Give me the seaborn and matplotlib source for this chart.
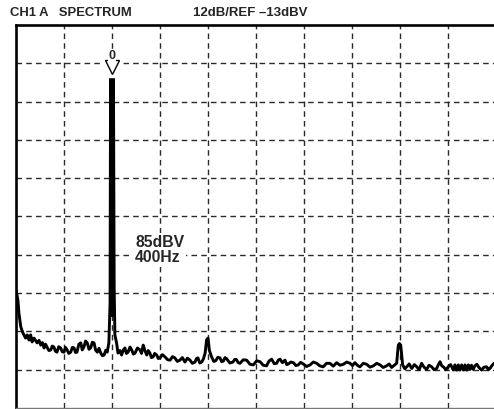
import matplotlib
matplotlib.use("Agg")
import matplotlib.pyplot as plt
import numpy as np
import pandas as pd
import seaborn as sns

# Analyzer settings
ref_level_db = -13.0      # top graticule line, dBV
db_per_div = 12.0
hz_per_div = 200.0
n_div = 10

# Fundamental marker readout
marker_freq_hz = 400.0
marker_rel_db = 85.0      # fundamental above the local noise floor
floor_ref_db = -114.0
peak_db = floor_ref_db + marker_rel_db

# Spectrum trace: frequency (Hz) and level (dBV)
freq_hz = [
    0, 8, 12, 20, 29, 40, 47, 54, 61, 67, 75, 88, 96, 103, 110, 117, 123,
    129, 137, 145, 151, 158, 164, 171, 178, 186, 193, 200, 206, 213, 220,
    228, 235, 242, 248, 254, 262, 270, 276, 283, 290, 297, 304, 311, 318,
    325, 332, 339, 346, 353, 360, 367, 374, 380, 387,
    392, 394, 396, 398, 400, 402, 404, 406, 409,
    412, 419, 425, 433, 440, 447, 454, 460, 467, 475, 482, 489, 496, 506,
    517, 523, 530, 537, 545, 551, 558, 564, 571, 578, 586, 593, 600, 610,
    621, 632, 642, 652, 662, 672, 683, 693, 704, 714, 725, 735, 746, 752,
    758, 766, 774, 781, 788, 794, 800, 806, 815, 824, 832, 841, 850, 857,
    864, 871, 878, 891, 904, 911, 918, 926, 933, 947, 961, 975, 989, 1003,
    1017, 1030, 1044, 1054, 1065, 1076, 1086, 1093, 1100, 1110, 1121, 1128,
    1135, 1145, 1156, 1166, 1176, 1186, 1197, 1211, 1225, 1239, 1253, 1266,
    1280, 1294, 1308, 1322, 1336, 1350, 1364, 1378, 1392, 1402, 1412, 1422,
    1433, 1447, 1461, 1475, 1489, 1503, 1517, 1530, 1544, 1555, 1565, 1576,
    1586, 1593, 1598, 1603, 1611, 1620, 1628, 1638, 1649, 1660, 1670, 1680,
    1690, 1700, 1711, 1721, 1732, 1742, 1753, 1760, 1767, 1774, 1781, 1791,
    1801, 1811, 1822, 1829, 1836, 1843, 1850, 1857, 1864, 1871, 1878, 1885,
    1892, 1898, 1905, 1912, 1920, 1930, 1940, 1950, 1961, 1968, 1975, 1983,
    1992,
]
level_db = [
    -96.0, -99.2, -103.2, -107.6, -109.5, -111.1, -110.1, -111.7, -110.1,
    -112.3, -111.1, -112.6, -111.8, -113.3, -112.5, -114.2, -113.0,
    -113.9, -115.0, -114.8, -113.6, -113.9, -115.2, -115.5, -113.8,
    -114.2, -115.4, -115.5, -114.0, -114.8, -115.9,
    -115.5, -114.0, -114.2, -115.6, -115.5, -113.0, -112.6, -114.8,
    -113.9, -112.0, -112.6, -114.6, -114.2, -112.4,
    -112.6, -114.9, -115.5, -114.3, -115.8, -116.6, -116.4, -114.9,
    -115.5, -112.6,
    -100.0, peak_db, -104.0, peak_db, -104.0, peak_db, -104.0, peak_db,
    -95.0,
    -110.1, -112.6, -115.8, -115.0, -116.4, -114.8, -114.2, -115.9,
    -115.5, -113.9, -114.8, -116.1, -115.8, -114.2,
    -114.8, -115.9, -113.3, -115.0, -116.4, -115.0, -115.8, -117.2,
    -117.0, -115.9, -116.4, -117.5, -117.3, -116.3,
    -117.0, -117.9, -118.0, -116.9, -117.3, -118.4, -118.0, -117.2,
    -118.6, -117.4, -118.0, -119.0, -118.6, -117.5,
    -117.3, -118.9, -118.6, -117.6, -115.8, -111.7, -111.1, -115.0,
    -117.0, -118.4, -118.2, -117.1, -117.3, -118.5,
    -118.3, -117.2, -117.6, -118.9, -118.6, -117.8, -117.8, -118.8,
    -119.0, -117.9, -118.0, -119.3, -119.5, -118.2,
    -118.5, -119.6, -119.8, -118.3, -117.7, -119.1, -119.0, -118.0,
    -117.7, -118.8, -118.0, -119.4,
    -119.2, -118.6, -118.8, -119.7, -119.5, -118.7, -119.2, -120.0,
    -119.5, -118.6, -119.0, -119.8,
    -120.1, -119.0, -119.0, -119.9, -118.8, -119.6, -119.3, -118.6,
    -119.0, -119.7, -118.8, -119.6,
    -120.1, -119.0, -119.3, -120.2, -119.8, -119.0, -119.5, -120.3,
    -119.8, -119.2, -120.3, -119.6,
    -119.0, -113.3, -112.8, -113.3, -119.5, -120.7, -120.1, -119.2,
    -120.6, -119.4, -120.1, -121.0,
    -119.0, -120.2, -120.9, -119.6, -120.1, -121.0, -120.6, -119.4,
    -118.5, -119.8, -120.1, -121.0,
    -120.1, -119.4, -121.1, -119.5, -121.1, -119.5, -121.1, -119.5,
    -121.1, -119.5, -121.1, -119.5,
    -120.9, -119.6, -120.9, -119.8, -119.3, -120.4, -121.1, -120.2,
    -120.1, -121.0, -120.6, -119.7,
    -119.0,
]

header_left = "CH1 A   SPECTRUM"
header_right = "12dB/REF \u201313dBV"
marker_label = "0"
readout = "85dBV\n400Hz"

sns.set_style("white")
plt.rcParams["font.family"] = ["Liberation Sans", "DejaVu Sans"]

fig = plt.figure(figsize=(4.94, 4.09), dpi=100)
ax = fig.add_axes([16 / 494, 1 / 409, 478 / 494, 383 / 409])

x_max = 478 / 48 * hz_per_div
y_min = ref_level_db - n_div * db_per_div
ax.set_xlim(0, x_max)
ax.set_ylim(y_min, ref_level_db)

# Graticule
grid_kw = dict(color="#2a2a2a", lw=1.0, ls=(0, (4, 3)), zorder=1)
for k in range(1, n_div):
    ax.axvline(k * hz_per_div, **grid_kw)
    ax.axhline(ref_level_db - k * db_per_div, **grid_kw)

df = pd.DataFrame({"freq": freq_hz, "level": level_db})
sns.lineplot(data=df, x="freq", y="level", ax=ax, color="black", lw=2.1,
             sort=False, estimator=None, zorder=3)

# Marker on the fundamental
ax.plot([marker_freq_hz], [-26.3], marker="s", ms=14, color="white",
        mec="white", zorder=4)
ax.plot([marker_freq_hz], [-26.3], marker="v", ms=10, mfc="white",
        mec="black", mew=1.0, zorder=5)
ax.text(marker_freq_hz, -22.6, marker_label, ha="center", va="center",
        fontsize=9, fontweight="bold", zorder=5,
        bbox=dict(facecolor="white", edgecolor="none", pad=0.5))

ax.text(496, -83.5, readout, ha="left", va="center", fontsize=11.3,
        fontweight="bold", linespacing=0.92, zorder=5,
        bbox=dict(facecolor="white", edgecolor="none", pad=1.5))

fig.text(10 / 494, 1 - 13 / 409, header_left, ha="left", va="center",
         fontsize=9.4, fontweight="bold")
fig.text(193 / 494, 1 - 13 / 409, header_right, ha="left", va="center",
         fontsize=9.5, fontweight="bold")

ax.set_xticks([])
ax.set_yticks([])
ax.set_xlabel("")
ax.set_ylabel("")
for side in ("left", "top"):
    ax.spines[side].set_color("black")
    ax.spines[side].set_linewidth(1.9)
ax.spines["bottom"].set_color("#777777")
ax.spines["bottom"].set_linewidth(1.0)
ax.spines["right"].set_visible(False)

fig.savefig("out.png", dpi=100)
